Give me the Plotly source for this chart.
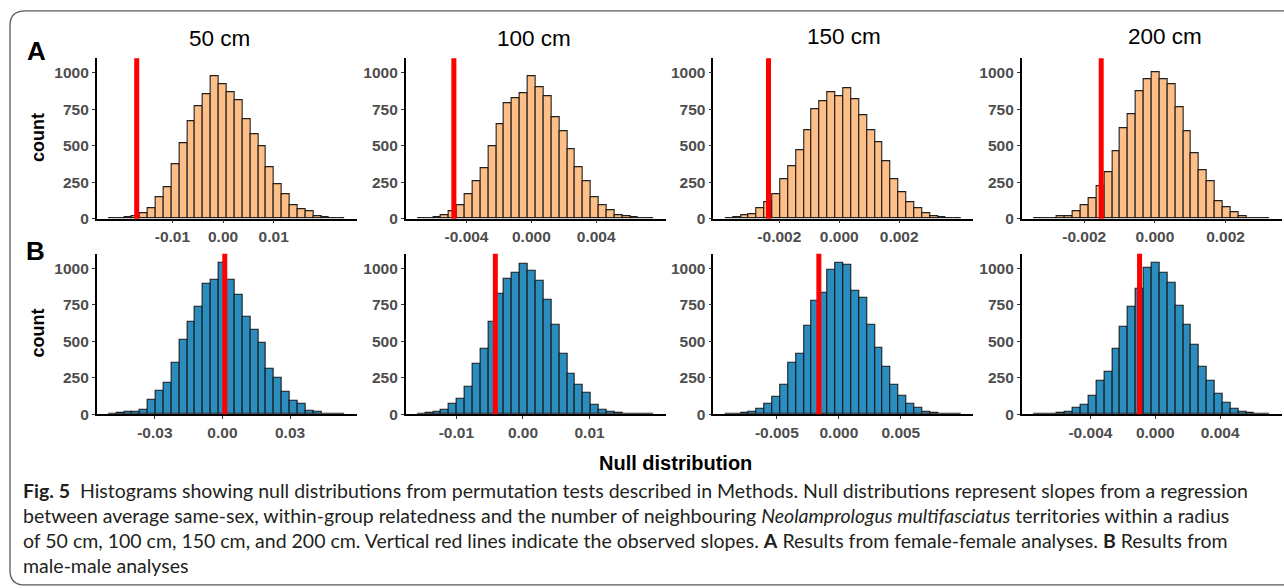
import plotly.graph_objects as go

W, H = 1284, 588

# ---------------- data ----------------
panel_titles = ["50 cm", "100 cm", "150 cm", "200 cm"]
y_tick_values = [0, 250, 500, 750, 1000]
y_tick_labels = ["0", "250", "500", "750", "1000"]

# Row A: female-female (30 bins per panel)
a_bin_start = [-0.022616, -0.007022, -0.00381, -0.003436]
a_bin_width = [0.001556, 0.000486, 0.000263, 0.000223]
a_counts_50 = [1, 3, 8, 15, 35, 75, 145, 215, 375, 520, 670, 770, 855, 980, 920,
               865, 810, 685, 578, 500, 355, 235, 170, 90, 68, 50, 18, 8, 5, 2]
a_counts_100 = [1, 4, 12, 22, 50, 90, 170, 255, 345, 494, 648, 790, 828, 862, 975,
                903, 837, 695, 603, 479, 352, 260, 147, 93, 56, 25, 16, 9, 5, 2]
a_counts_150 = [5, 11, 25, 34, 70, 110, 165, 270, 357, 470, 607, 750, 806, 869, 842,
                894, 819, 707, 605, 521, 395, 273, 185, 110, 74, 36, 16, 9, 5, 2]
a_counts_200 = [1, 2, 4, 16, 20, 50, 90, 140, 225, 316, 465, 620, 713, 871, 955,
                1004, 957, 921, 765, 600, 447, 332, 257, 122, 77, 43, 18, 5, 2, 1]
a_observed = [-0.01705, -0.00478, -0.002362, -0.00152]
a_xtick_values = [[-0.01, 0, 0.01], [-0.004, 0, 0.004], [-0.002, 0, 0.002], [-0.002, 0, 0.002]]
a_xtick_labels = [["-0.01", "0.00", "0.01"], ["-0.004", "0.000", "0.004"],
                  ["-0.002", "0.000", "0.002"], ["-0.002", "0.000", "0.002"]]

# Row B: male-male
b_bin_start = [-0.050556, -0.015833, -0.009174, -0.00751]
b_bin_width = [0.003496, 0.001183, 0.0006355, 0.000486]
b_counts_50 = [2, 7, 18, 20, 34, 102, 158, 214, 350, 512, 637, 736, 896, 923, 1038,
               923, 819, 666, 580, 492, 309, 250, 156, 90, 70, 27, 14, 5, 2, 1]
b_counts_100 = [2, 9, 16, 32, 70, 106, 190, 343, 449, 632, 824, 932, 971, 1034, 984,
                912, 786, 612, 413, 275, 199, 144, 68, 34, 16, 9, 5, 3, 1, 1]
b_counts_150 = [1, 3, 9, 16, 36, 74, 117, 203, 350, 413, 605, 779, 835, 993, 1038,
                1025, 849, 797, 614, 458, 327, 205, 126, 74, 45, 16, 9, 4, 2, 1]
b_counts_200 = [2, 4, 6, 11, 20, 43, 63, 126, 228, 291, 447, 600, 734, 858, 1007,
                1038, 968, 898, 747, 612, 476, 325, 228, 142, 81, 41, 14, 7, 2, 1]
b_observed = [0.00103, -0.00415, -0.001613, -0.000969]
b_xtick_values = [[-0.03, 0, 0.03], [-0.01, 0, 0.01], [-0.005, 0, 0.005], [-0.004, 0, 0.004]]
b_xtick_labels = [["-0.03", "0.00", "0.03"], ["-0.01", "0.00", "0.01"],
                  ["-0.005", "0.000", "0.005"], ["-0.004", "0.000", "0.004"]]

caption_lines = [
    "<b>Fig. 5</b>&nbsp; Histograms showing null distributions from permutation tests described in Methods. Null distributions represent slopes from a regression",
    "between average same-sex, within-group relatedness and the number of neighbouring <i>Neolamprologus multifasciatus</i> territories within a radius",
    "of 50 cm, 100 cm, 150 cm, and 200 cm. Vertical red lines indicate the observed slopes. <b>A</b> Results from female-female analyses. <b>B</b> Results from",
    "male-male analyses",
]

# ---------------- layout helpers ----------------
def px(x):
    return x / W

def py(y):
    return 1 - y / H

col_left = [96.7, 405.7, 713.3, 1021.7]
col_width = 260.0
row_top = [59.0, 257.3]
row_bottom = [221.7, 420.0]

ORANGE = "#FDBE87"
BLUE = "#2B8CBE"
TICK_FONT = dict(family="Liberation Sans, Arial, sans-serif", size=15.5, color="#4D4D4D", weight="bold")

rows = [
    dict(start=a_bin_start, width=a_bin_width,
         counts=[a_counts_50, a_counts_100, a_counts_150, a_counts_200],
         obs=a_observed, tv=a_xtick_values, tt=a_xtick_labels, color=ORANGE),
    dict(start=b_bin_start, width=b_bin_width,
         counts=[b_counts_50, b_counts_100, b_counts_150, b_counts_200],
         obs=b_observed, tv=b_xtick_values, tt=b_xtick_labels, color=BLUE),
]

fig = go.Figure()
layout = dict(
    width=W, height=H, autosize=False,
    margin=dict(l=0, r=0, t=0, b=0),
    paper_bgcolor="white", plot_bgcolor="white",
    showlegend=False, bargap=0,
)
shapes = []
annotations = []

idx = 0
for r, row in enumerate(rows):
    for c in range(4):
        idx += 1
        sfx = "" if idx == 1 else str(idx)
        L = row["start"][c]
        w = row["width"][c]
        counts = row["counts"][c]
        centers = [L + w * (k + 0.5) for k in range(len(counts))]
        n = len(counts)
        fig.add_trace(go.Bar(
            x=centers, y=counts, width=[w] * n,
            marker=dict(color=row["color"], line=dict(color="rgba(20,20,20,0.95)", width=1.1)),
            xaxis="x" + sfx, yaxis="y" + sfx, hoverinfo="x+y",
        ))
        xr = [L - 1.5 * w, L + (n + 1.5) * w]
        layout["xaxis" + sfx] = dict(
            domain=[px(col_left[c]), px(col_left[c] + col_width)],
            range=xr, anchor="y" + sfx,
            showline=True, linecolor="black", linewidth=1.6,
            ticks="outside", ticklen=3, tickwidth=1, tickcolor="#333333",
            tickvals=row["tv"][c], ticktext=row["tt"][c], tickfont=TICK_FONT,
            showgrid=False, zeroline=False, fixedrange=True,
        )
        layout["yaxis" + sfx] = dict(
            domain=[py(row_bottom[r]), py(row_top[r])],
            range=[0, 1100], anchor="x" + sfx,
            showline=True, linecolor="black", linewidth=1.6,
            ticks="outside", ticklen=3, tickwidth=1, tickcolor="#333333",
            tickvals=y_tick_values, ticktext=y_tick_labels, tickfont=TICK_FONT,
            showgrid=False, zeroline=False, fixedrange=True,
        )
        shapes.append(dict(
            type="line", xref="x" + sfx, yref="y" + sfx + " domain",
            x0=row["obs"][c], x1=row["obs"][c], y0=0, y1=1,
            line=dict(color="#FF0000", width=5), layer="above",
        ))

# panel titles
title_pos = [(219, 37.3), (534, 37.3), (843.7, 35.5), (1165, 35.5)]
for t, (x, y) in zip(panel_titles, title_pos):
    annotations.append(dict(
        text=t, x=px(x), y=py(y + 1.5), xref="paper", yref="paper",
        xanchor="center", yanchor="middle", showarrow=False,
        font=dict(family="Liberation Sans, Arial, sans-serif", size=22.5, color="black"),
    ))

# row letters
for t, (x, y) in zip(["A", "B"], [(36, 51.5), (35.5, 254)]):
    annotations.append(dict(
        text="<b>%s</b>" % t, x=px(x), y=py(y), xref="paper", yref="paper",
        xanchor="center", yanchor="middle", showarrow=False,
        font=dict(family="Liberation Sans, Arial, sans-serif", size=26, color="black"),
    ))

# y titles
for y in [140, 338]:
    annotations.append(dict(
        text="<b>count</b>", x=px(38), y=py(y), xref="paper", yref="paper",
        xanchor="center", yanchor="middle", showarrow=False, textangle=-90,
        font=dict(family="Liberation Sans, Arial, sans-serif", size=18, color="black"),
    ))

# x title
annotations.append(dict(
    text="<b>Null distribution</b>", x=px(676), y=py(469), xref="paper", yref="paper",
    xanchor="center", yanchor="middle", showarrow=False,
    font=dict(family="Liberation Sans, Arial, sans-serif", size=20, color="black"),
))

# caption
for i, line in enumerate(caption_lines):
    annotations.append(dict(
        text=line, x=px(21), y=py(497.5 + 25.4 * i), xref="paper", yref="paper",
        xanchor="left", yanchor="middle", showarrow=False, align="left",
        font=dict(family="Lato, sans-serif", size=19.5, color="#231F20"),
    ))

# rounded frame
path = ("M {a},{b} L {c},{b} Q {d},{b} {d},{e} L {d},{f} Q {d},{g} {c},{g} L {a},{g}"
        .format(a=px(1310), b=py(11), c=px(25), d=px(10), e=py(26), f=py(578), g=py(593)))
shapes.append(dict(type="path", xref="paper", yref="paper", path=path,
                   line=dict(color="#5A5A5A", width=1.3), layer="below"))

layout["shapes"] = shapes
layout["annotations"] = annotations
fig.update_layout(**layout)

fig.write_html(
    "out.html",
    config={"displayModeBar": False},
    post_script="document.body.style.margin='0px';document.body.style.padding='0px';",
)
